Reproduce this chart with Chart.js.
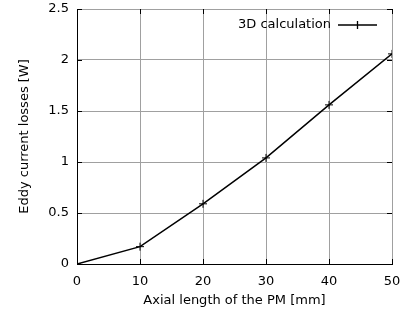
<!DOCTYPE html>
<html>
<head>
<meta charset="utf-8">
<script src="https://cdn.jsdelivr.net/npm/chart.js@4"></script>
<style>
  body { margin: 0; background: #fff; }
  canvas { display: block; }
</style>
</head>
<body>
<canvas id="lossChart" width="401" height="320"></canvas>
<script>
// Eddy current losses vs axial length of the PM
const axialLength = [0, 10, 20, 30, 40, 50];
const eddyLosses = [0, 0.17, 0.59, 1.04, 1.56, 2.06];
const xTicks = [0, 10, 20, 30, 40, 50];
const yTicks = [0, 0.5, 1, 1.5, 2, 2.5];
const seriesLabel = '3D calculation';

const FONT = 'DejaVu Sans';
const FS = 13;

// gnuplot-like inner ticks + legend in top right
const gnuplotExtras = {
  id: 'gnuplotExtras',
  afterDraw(chart) {
    const { ctx, chartArea: a, scales } = chart;
    ctx.save();
    ctx.strokeStyle = '#000';
    ctx.lineWidth = 1;
    ctx.beginPath();
    xTicks.forEach(v => {
      const x = Math.round(scales.x.getPixelForValue(v)) + 0.5;
      ctx.moveTo(x, a.bottom); ctx.lineTo(x, a.bottom - 5);
      ctx.moveTo(x, a.top); ctx.lineTo(x, a.top + 5);
    });
    yTicks.forEach(v => {
      const y = Math.round(scales.y.getPixelForValue(v)) + 0.5;
      ctx.moveTo(a.left, y); ctx.lineTo(a.left + 5, y);
      ctx.moveTo(a.right, y); ctx.lineTo(a.right - 5, y);
    });
    ctx.stroke();

    // legend
    ctx.font = FS + 'px ' + FONT;
    ctx.fillStyle = '#000';
    ctx.textAlign = 'right';
    ctx.textBaseline = 'middle';
    ctx.fillText(seriesLabel, 331, 25);
    ctx.lineWidth = 1.3;
    ctx.beginPath();
    ctx.moveTo(338, 25); ctx.lineTo(377, 25);
    ctx.moveTo(357.5, 21); ctx.lineTo(357.5, 29);
    ctx.stroke();
    ctx.restore();
  }
};

// drop Chart.js' label overflow padding so the plot box lands where gnuplot put it
const noOverflow = s => { s.paddingTop = 0; s.paddingBottom = 0; s.paddingLeft = 0; s.paddingRight = 0; };

new Chart(document.getElementById('lossChart').getContext('2d'), {
  type: 'line',
  data: {
    datasets: [{
      label: seriesLabel,
      data: axialLength.map((x, i) => ({ x: x, y: eddyLosses[i] })),
      borderColor: '#000',
      borderWidth: 1.5,
      pointStyle: 'cross',
      pointRadius: 4,
      pointBorderColor: '#000',
      pointBorderWidth: 1,
      tension: 0,
      fill: false
    }]
  },
  options: {
    responsive: false,
    animation: false,
    layout: { padding: { top: 9, right: 9, left: 0, bottom: 0 } },
    plugins: { legend: { display: false }, tooltip: { enabled: false } },
    scales: {
      x: {
        type: 'linear',
        min: 0, max: 50,
        afterBuildTicks: s => { s.ticks = xTicks.map(v => ({ value: v })); },
        afterFit: s => { s.height = 56; noOverflow(s); },
        ticks: { color: '#000', font: { family: FONT, size: FS }, padding: 10, maxRotation: 0 },
        grid: { color: '#a0a0a0', lineWidth: 1, drawTicks: false },
        border: { color: '#000', width: 1 },
        title: { display: true, text: 'Axial length of the PM [mm]', color: '#000', font: { family: FONT, size: FS }, padding: { top: 12, bottom: 12 } }
      },
      y: {
        min: 0, max: 2.5,
        afterBuildTicks: s => { s.ticks = yTicks.map(v => ({ value: v })); },
        afterFit: s => { s.width = 77; noOverflow(s); },
        ticks: { color: '#000', font: { family: FONT, size: FS }, padding: 8, callback: v => String(v) },
        grid: { color: '#a0a0a0', lineWidth: 1, drawTicks: false },
        border: { color: '#000', width: 1 },
        title: { display: true, text: 'Eddy current losses [W]', color: '#000', font: { family: FONT, size: FS }, padding: { top: 17 } }
      }
    }
  },
  plugins: [gnuplotExtras]
});
</script>
</body>
</html>
